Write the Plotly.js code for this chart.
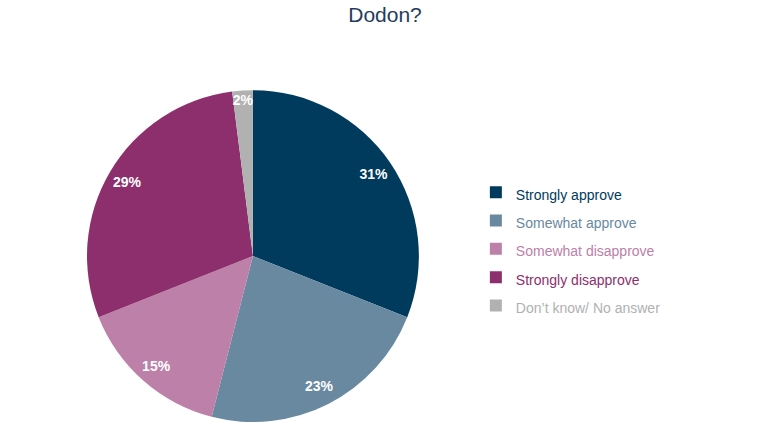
<!DOCTYPE html>
<html>
<head>
<meta charset="utf-8">
<script src="https://cdn.plot.ly/plotly-3.0.1.min.js"></script>
<style>html,body{margin:0;padding:0;background:#fff;}#chart{width:770px;height:433px;}</style>
</head>
<body>
<div id="chart"></div>
<script>
const categories = ["Strongly approve", "Somewhat approve", "Somewhat disapprove", "Strongly disapprove", "Don\u2019t know/ No answer"];
const values = [31, 23, 15, 29, 2];
const colors = ["#003a5c", "#68899f", "#bc80a9", "#8d2f6c", "#b1b1b1"];

const styledLabels = categories.map((c, i) =>
  '<span style="font-size:14px;color:' + colors[i] + '">' + c + '</span>');

const pieDomain = {x: [0.113, 0.544], y: [0.025, 0.792]};

// base pie: the coloured slices and the legend
const base = {
  type: 'pie',
  labels: styledLabels,
  values: values,
  sort: false,
  direction: 'clockwise',
  rotation: 0,
  marker: {colors: colors, line: {width: 0}},
  textinfo: 'none',
  domain: pieDomain,
  hoverinfo: 'label+percent'
};

// transparent ring on top, only to place the percentage labels further out
const labelsRing = {
  type: 'pie',
  labels: styledLabels,
  values: values,
  sort: false,
  direction: 'clockwise',
  rotation: 0,
  hole: 0.76,
  showlegend: false,
  marker: {colors: colors.map(() => 'rgba(0,0,0,0)'), line: {width: 0}},
  texttemplate: '%{value}%',
  textposition: 'inside',
  insidetextorientation: 'horizontal',
  textfont: {family: 'Liberation Sans, Arial, sans-serif', size: 14, color: '#ffffff', weight: 'bold'},
  domain: pieDomain,
  hoverinfo: 'skip'
};

const layout = {
  width: 770, height: 433,
  margin: {l: 0, r: 0, t: 0, b: 0},
  paper_bgcolor: '#ffffff',
  font: {family: 'Liberation Sans, Arial, sans-serif'},
  uniformtext: {minsize: 14, mode: 'show'},
  title: {
    text: 'Dodon?',
    x: 0.5, xanchor: 'center',
    y: 0.984, yanchor: 'top', yref: 'container',
    pad: {t: 0, b: 0},
    font: {size: 21, color: '#1f3d5c', family: 'Liberation Sans, Arial, sans-serif'}
  },
  showlegend: true,
  legend: {
    x: 0.618, xanchor: 'left',
    y: 0.425, yanchor: 'middle',
    font: {size: 19.5, color: '#333'},
    bgcolor: 'rgba(0,0,0,0)'
  }
};

Plotly.newPlot('chart', [base, labelsRing], layout, {displayModeBar: false, staticPlot: true});
</script>
</body>
</html>
